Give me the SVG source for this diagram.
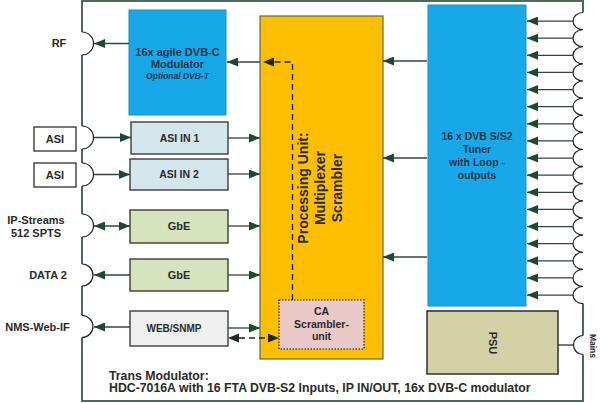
<svg xmlns="http://www.w3.org/2000/svg" width="600" height="403" viewBox="0 0 600 403">
<defs>
<marker id="ah" markerUnits="userSpaceOnUse" markerWidth="11" markerHeight="9" refX="11" refY="4.5" orient="auto-start-reverse">
<path d="M0,0 L11,4.5 L0,9 z" fill="#1d4a2c"/>
</marker>
<style>
text{font-family:"Liberation Sans",Arial,sans-serif;font-weight:bold;fill:#2a2a2a;font-size:11px;text-anchor:middle}
.blue{fill:#17a8e9;stroke:#1890c8;stroke-width:1}
.bt{fill:#1c3646}
.frame{fill:none;stroke:#4f6a58;stroke-width:2}
.port{fill:none;stroke:#1e1e1e;stroke-width:1.2}
.box{stroke:#2e2e2e;stroke-width:1.3}
.c{stroke:#2f4636;stroke-width:1.3;fill:none;marker-end:url(#ah)}
.c2{stroke:#2f4636;stroke-width:1.3;fill:none;marker-start:url(#ah);marker-end:url(#ah)}
.d{stroke:#1e1e1e;stroke-width:1.3;fill:none;stroke-dasharray:6 4}
</style>
</defs>
<rect width="600" height="403" fill="#ffffff"/>

<g id="frame">
<path class="frame" d="M82,32 V1 H583 V12.5 M583,303.5 V335.5 M583,354.5 V401 H82 V337.5 M82,315.5 V286 M82,264 V237 M82,214 V186 M82,163 V149 M82,126 V55"/>
<path class="port" d="M82,32 A11.5,11.5 0 0 1 82,55 M82,126 A11.5,11.5 0 0 1 82,149 M82,163 A11.5,11.5 0 0 1 82,186 M82,214 A11.5,11.5 0 0 1 82,237 M82,264 A11,11 0 0 1 82,286 M82,315.5 A11,11 0 0 1 82,337.5 M583,335.5 A9.5,9.5 0 0 0 583,354.5"/>
<path class="port" d="M583,12.5 a10,8.5625 0 0 0 0,17.125 a10,8.5625 0 0 0 0,17.125 a10,8.5625 0 0 0 0,17.125 a10,8.5625 0 0 0 0,17.125 a10,8.5625 0 0 0 0,17.125 a10,8.5625 0 0 0 0,17.125 a10,8.5625 0 0 0 0,17.125 a10,8.5625 0 0 0 0,17.125 a10,8.5625 0 0 0 0,17.125 a10,8.5625 0 0 0 0,17.125 a10,8.5625 0 0 0 0,17.125 a10,8.5625 0 0 0 0,17.125 a10,8.5625 0 0 0 0,17.125 a10,8.5625 0 0 0 0,17.125 a10,8.5625 0 0 0 0,17.125 a10,8.5625 0 0 0 0,17.125 a10,8.5625 0 0 0 0,17.125"/>
</g>

<g id="labels">
<text x="59" y="47">RF</text>
<text x="36" y="224">IP-Streams</text>
<text x="36" y="237">512 SPTS</text>
<text x="48" y="279">DATA 2</text>
<text x="37.5" y="331">NMS-Web-IF</text>
<text transform="translate(593,346) rotate(90)" x="0" y="3" style="font-size:8.5px">Mains</text>
</g>

<g id="asi1"><rect class="box" x="34" y="127" width="42" height="24" fill="#ffffff"/><text x="55" y="143">ASI</text></g>
<g id="asi2"><rect class="box" x="34" y="163" width="42" height="24" fill="#ffffff"/><text x="55" y="179">ASI</text></g>

<g id="modulator">
<rect class="blue" x="129" y="10" width="97" height="105"/>
<text class="bt" x="177.5" y="56">16x agile DVB-C</text>
<text class="bt" x="177.5" y="68">Modulator</text>
<text class="bt" x="177.5" y="79" style="font-size:8.5px;font-style:italic">Optional DVB-T</text>
</g>

<g id="asiin1"><rect class="box" x="131" y="122" width="97" height="32" fill="#d3e6ec"/><text x="179.5" y="142" style="font-size:10.5px">ASI IN 1</text></g>
<g id="asiin2"><rect class="box" x="130" y="159" width="98" height="31" fill="#d3e6ec"/><text x="179" y="178" style="font-size:10.5px">ASI IN 2</text></g>
<g id="gbe1"><rect class="box" x="130" y="210" width="98" height="33" fill="#d7e3bc"/><text x="179" y="230">GbE</text></g>
<g id="gbe2"><rect class="box" x="130" y="259" width="98" height="32" fill="#d7e3bc"/><text x="179" y="279">GbE</text></g>
<g id="websnmp"><rect class="box" x="130" y="311" width="98" height="35" fill="#efefef"/><text x="174" y="332" style="font-size:10px">WEB/SNMP</text></g>

<g id="processing">
<rect x="260" y="16" width="123" height="343" fill="#fdbf00" stroke="#5a6a4c" stroke-width="1.2"/>
<g transform="translate(321,188) rotate(-90)">
<text x="0" y="-13" style="font-size:14px">Processing Unit:</text>
<text x="0" y="4" style="font-size:14px">Multiplexer</text>
<text x="0" y="21" style="font-size:14px">Scrambler</text>
</g>
</g>

<g id="ca">
<rect x="279" y="300" width="85" height="49" fill="#ecc9c9" stroke="#1e1e1e" stroke-width="1.2" stroke-dasharray="1.5 1.5"/>
<text x="321.5" y="315" style="font-size:10.5px">CA</text>
<text x="321.5" y="328" style="font-size:10.5px">Scrambler-</text>
<text x="321.5" y="340" style="font-size:10.5px">unit</text>
</g>

<g id="tuner">
<rect class="blue" x="428" y="5" width="98" height="301"/>
<text class="bt" x="477" y="140" style="font-size:10.5px">16 x DVB S/S2</text>
<text class="bt" x="477" y="153" style="font-size:10.5px">Tuner</text>
<text class="bt" x="477" y="166" style="font-size:10.5px">with Loop -</text>
<text class="bt" x="477" y="179" style="font-size:10.5px">outputs</text>
</g>

<g id="psu">
<rect x="427" y="311" width="131" height="63" fill="#d4d1a6" stroke="#2e2e2e" stroke-width="1.5"/>
<text transform="translate(493,343) rotate(90)" x="0" y="4">PSU</text>
</g>

<g id="title">
<text x="109" y="379.5" style="text-anchor:start;font-size:12.3px">Trans Modulator:</text>
<text x="109" y="392" style="text-anchor:start;font-size:12.3px">HDC-7016A with 16 FTA DVB-S2 Inputs, IP IN/OUT, 16x DVB-C modulator</text>
</g>

<g id="connectors">
<path class="c" d="M129,43.5 H94"/>
<path class="c" d="M260,62 H227"/>
<path class="d" d="M292.5,300 V62 H273"/>
<path d="M274,57.5 L263,62 L274,66.5 z" fill="#1a2a20"/>
<path class="c" d="M94,137.5 H131"/>
<path class="c" d="M94,174.5 H130"/>
<path class="c" d="M228,138 H260"/>
<path class="c" d="M228,174 H260"/>
<path class="c2" d="M94,226 H130"/>
<path class="c" d="M228,226 H260"/>
<path class="c" d="M130,275 H94"/>
<path class="c" d="M228,275 H260"/>
<path class="c" d="M130,327 H94"/>
<path class="c" d="M228,328 H260"/>
<path class="d" d="M239,338 H268"/>
<path d="M239,333.5 L228,338 L239,342.5 z M268,333.5 L279,338 L268,342.5 z" fill="#1a2a20"/>
<path class="c" d="M427,61 H383"/>
<path class="c" d="M427,158 H383"/>
<path class="c" d="M427,257 H383"/>
<path class="c" d="M573,21.06 H527"/>
<path class="c" d="M573,38.19 H527"/>
<path class="c" d="M573,55.31 H527"/>
<path class="c" d="M573,72.44 H527"/>
<path class="c" d="M573,89.56 H527"/>
<path class="c" d="M573,106.69 H527"/>
<path class="c" d="M573,123.81 H527"/>
<path class="c" d="M573,140.94 H527"/>
<path class="c" d="M573,158.06 H527"/>
<path class="c" d="M573,175.19 H527"/>
<path class="c" d="M573,192.31 H527"/>
<path class="c" d="M573,209.44 H527"/>
<path class="c" d="M573,226.56 H527"/>
<path class="c" d="M573,243.69 H527"/>
<path class="c" d="M573,260.81 H527"/>
<path class="c" d="M573,277.94 H527"/>
<path class="c" d="M573,295.06 H527"/>
<path d="M558,345 H573.5" stroke="#2e2e2e" stroke-width="1.3"/>
</g>
</svg>
